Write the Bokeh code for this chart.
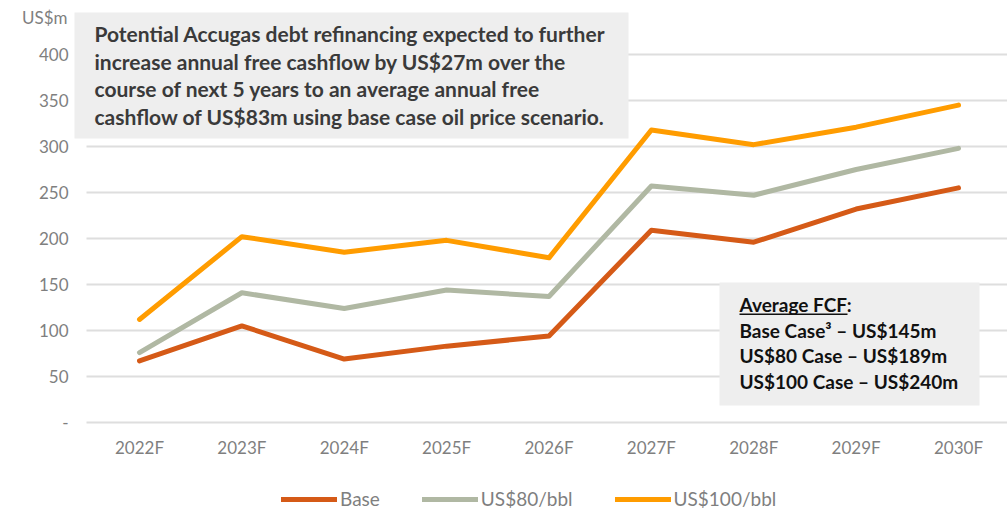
from bokeh.plotting import figure
from bokeh.models import Legend, LegendItem, BoxAnnotation, Label, Range1d
from bokeh.core.properties import value
from bokeh.embed import file_html
from bokeh.resources import INLINE

years = ["2022F", "2023F", "2024F", "2025F", "2026F", "2027F", "2028F", "2029F", "2030F"]
base = [67, 105, 69, 83, 94, 209, 196, 232, 255]
us80 = [76, 141, 124, 144, 137, 257, 247, 275, 298]
us100 = [112, 202, 185, 198, 179, 318, 302, 321, 345]
y_ticks = [0, 50, 100, 150, 200, 250, 300, 350, 400]
y_tick_labels = ["-", "50", "100", "150", "200", "250", "300", "350", "400"]
y_unit = "US$m"
series_names = ["Base", "US$80/bbl", "US$100/bbl"]
colors = ["#D55A17", "#B0B8A3", "#FF9C00"]
box1_lines = [
    "Potential Accugas debt refinancing expected to further",
    "increase annual free cashflow by US$27m over the",
    "course of next 5 years to an average annual free",
    "cashflow of US$83m using base case oil price scenario.",
]
box2_lines = [
    "Average FCF:",
    "Base Case\u00b3 \u2013 US$145m",
    "US$80 Case \u2013 US$189m",
    "US$100 Case \u2013 US$240m",
]

FONT = "Lato"
W, H = 1007, 511
xs = list(range(len(years)))


def X(rx):
    return (rx - 139) / 102.375


def Y(ry):
    return (422 - ry) / 0.92


p = figure(width=W, height=H, output_backend="svg", toolbar_location=None,
           x_range=Range1d(X(0), X(W)), y_range=Range1d(Y(H), Y(0)),
           x_axis_location=None, y_axis_location=None,
           min_border_left=0, min_border_right=0, min_border_top=0, min_border_bottom=0)
p.outline_line_color = None
p.background_fill_color = "white"
p.border_fill_color = "white"
p.xgrid.grid_line_color = None
p.ygrid.grid_line_color = None

# gridlines
p.segment(x0=[X(86)] * len(y_ticks), x1=[X(W)] * len(y_ticks), y0=y_ticks, y1=y_ticks,
          line_color="#dedede", line_width=2, level="underlay")

# axis labels
p.text(x=xs, y=[Y(447)] * len(xs), text=years, text_font=value(FONT), text_font_size="17px",
       text_color="#7f7f7f", text_align="center", text_baseline="middle")
p.text(x=[X(68)] * len(y_ticks), y=y_ticks, text=y_tick_labels, text_font=value(FONT),
       text_font_size="17px", text_color="#7f7f7f", text_align="right", text_baseline="middle")
p.text(x=[X(67)], y=[Y(17)], text=[y_unit], text_font=value(FONT), text_font_size="17px",
       text_color="#7f7f7f", text_align="right", text_baseline="middle")

renderers = []
for vals, c in zip([base, us80, us100], colors):
    r = p.line(xs, vals, line_color=c, line_width=5, line_cap="round", line_join="round")
    renderers.append(r)

legend = Legend(items=[LegendItem(label=n, renderers=[r]) for n, r in zip(series_names, renderers)],
                orientation="horizontal", location=(281, 1), padding=0, margin=0,
                spacing=42, glyph_width=56, glyph_height=20, label_standoff=3,
                label_text_font=FONT, label_text_font_size="19px", label_text_color="#7f7f7f",
                border_line_color=None, background_fill_alpha=0)
p.add_layout(legend, "center")

p.add_layout(BoxAnnotation(left=X(74), right=X(628), top=Y(12), bottom=Y(138),
                           fill_color="#eeeeee", fill_alpha=1, line_color=None))
for i, t in enumerate(box1_lines):
    p.add_layout(Label(x=X(94), y=Y(33 + i * 27.7), text=t, text_font=FONT, text_font_size="21px",
                       text_font_style="bold", text_color="#3a3a3a", text_align="left",
                       text_baseline="middle"))

p.add_layout(BoxAnnotation(left=X(719), right=X(979), top=Y(282), bottom=Y(405),
                           fill_color="#eeeeee", fill_alpha=1, line_color=None))
for i, t in enumerate(box2_lines):
    p.add_layout(Label(x=X(739), y=Y(304 + i * 25.7), text=t, text_font=FONT, text_font_size="19px",
                       text_font_style="bold", text_color="#111111", text_align="left",
                       text_baseline="middle"))
p.add_layout(BoxAnnotation(left=X(739), right=X(847), top=Y(313), bottom=Y(314.5),
                           fill_color="#111111", fill_alpha=1, line_color=None))

open("out.html", "w").write(file_html(p, INLINE))
